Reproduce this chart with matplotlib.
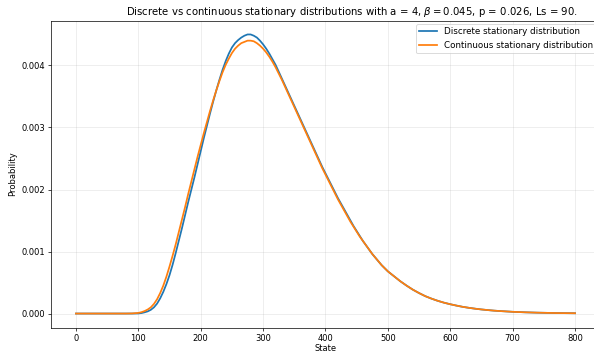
import matplotlib
matplotlib.use("Agg")
import matplotlib.pyplot as plt
import numpy as np

# State grid: every 10 on the flat parts, every 5 around the bump
states = list(range(0, 100, 10)) + list(range(100, 500, 5)) + list(range(500, 801, 10))

# Discrete stationary distribution (x1e-3)
discrete_e3 = [
    0, 0, 0, 0, 0, 0, 0, 0, 0, 0,                                   # 0-90
    0.002, 0.008, 0.02, 0.035, 0.06, 0.10, 0.16, 0.245, 0.35, 0.475,  # 100-145
    0.62, 0.79, 0.98, 1.18, 1.38, 1.59, 1.80, 2.00, 2.20, 2.41,       # 150-195
    2.62, 2.83, 3.03, 3.23, 3.42, 3.60, 3.77, 3.93, 4.07, 4.19,       # 200-245
    4.29, 4.36, 4.41, 4.45, 4.48, 4.50, 4.50, 4.48, 4.45, 4.40,       # 250-295
    4.34, 4.27, 4.19, 4.10, 4.01, 3.90, 3.79, 3.68, 3.57, 3.46,       # 300-345
    3.35, 3.24, 3.13, 3.02, 2.91, 2.80, 2.69, 2.58, 2.47, 2.36,       # 350-395
    2.26, 2.16, 2.06, 1.96, 1.86, 1.77, 1.68, 1.59, 1.50, 1.41,       # 400-445
    1.33, 1.25, 1.17, 1.10, 1.03, 0.96, 0.90, 0.84, 0.78, 0.73,       # 450-495
    0.68, 0.60, 0.52, 0.45, 0.385, 0.33, 0.28, 0.24, 0.205, 0.175,    # 500-590
    0.150, 0.128, 0.108, 0.092, 0.078, 0.066, 0.056, 0.047, 0.040, 0.034,  # 600-690
    0.028, 0.024, 0.020, 0.017, 0.014, 0.012, 0.010, 0.008, 0.007, 0.006,  # 700-790
    0.005,                                                           # 800
]

# Continuous stationary distribution (x1e-3)
continuous_e3 = [
    0, 0, 0, 0, 0, 0, 0, 0, 0, 0.002,                               # 0-90
    0.01, 0.022, 0.04, 0.065, 0.10, 0.155, 0.23, 0.33, 0.45, 0.595,  # 100-145
    0.76, 0.935, 1.12, 1.32, 1.52, 1.72, 1.93, 2.13, 2.33, 2.53,      # 150-195
    2.72, 2.91, 3.09, 3.27, 3.44, 3.60, 3.75, 3.89, 4.01, 4.11,       # 200-245
    4.20, 4.27, 4.32, 4.36, 4.38, 4.40, 4.40, 4.39, 4.36, 4.32,       # 250-295
    4.27, 4.21, 4.14, 4.06, 3.97, 3.87, 3.77, 3.66, 3.55, 3.44,       # 300-345
    3.33, 3.22, 3.11, 3.00, 2.89, 2.78, 2.67, 2.56, 2.45, 2.34,       # 350-395
    2.24, 2.14, 2.04, 1.94, 1.84, 1.75, 1.66, 1.57, 1.48, 1.40,       # 400-445
    1.32, 1.24, 1.17, 1.10, 1.03, 0.96, 0.90, 0.84, 0.78, 0.73,       # 450-495
    0.68, 0.60, 0.52, 0.45, 0.385, 0.33, 0.28, 0.24, 0.205, 0.175,    # 500-590
    0.150, 0.128, 0.108, 0.092, 0.078, 0.066, 0.056, 0.047, 0.040, 0.034,  # 600-690
    0.028, 0.024, 0.020, 0.017, 0.014, 0.012, 0.010, 0.008, 0.007, 0.006,  # 700-790
    0.005,                                                           # 800
]

discrete = np.array(discrete_e3) * 1e-3
continuous = np.array(continuous_e3) * 1e-3

DPI = 63
fig = plt.figure(figsize=(594 / DPI, 352 / DPI), dpi=DPI)
ax = fig.add_axes([51 / 594, (352 - 327.5) / 352, (600 - 51) / 594, (327.5 - 20.5) / 352])

ax.plot(states, discrete, color="#1f77b4", lw=2.0, label="Discrete stationary distribution")
ax.plot(states, continuous, color="#ff7f0e", lw=2.0, label="Continuous stationary distribution")

ax.set_xticks([0, 100, 200, 300, 400, 500, 600, 700, 800])
ax.set_yticks([0.0, 0.001, 0.002, 0.003, 0.004])
ax.set_yticklabels(["0.000", "0.001", "0.002", "0.003", "0.004"])
ax.tick_params(labelsize=9.5)
ax.grid(True, alpha=0.3)
ax.set_xlabel("State", fontsize=9.5, labelpad=1.5)
ax.set_ylabel("Probability", fontsize=9.5)
ax.set_title(r"Discrete vs continuous stationary distributions with a = 4, $\beta = 0.045$, p = 0.026, Ls = 90.",
             fontsize=11.5, pad=6, x=(352 - 51) / 549)
ax.legend(loc="upper right", fontsize=10, borderaxespad=0.4)

fig.savefig("out.png", dpi=DPI)
